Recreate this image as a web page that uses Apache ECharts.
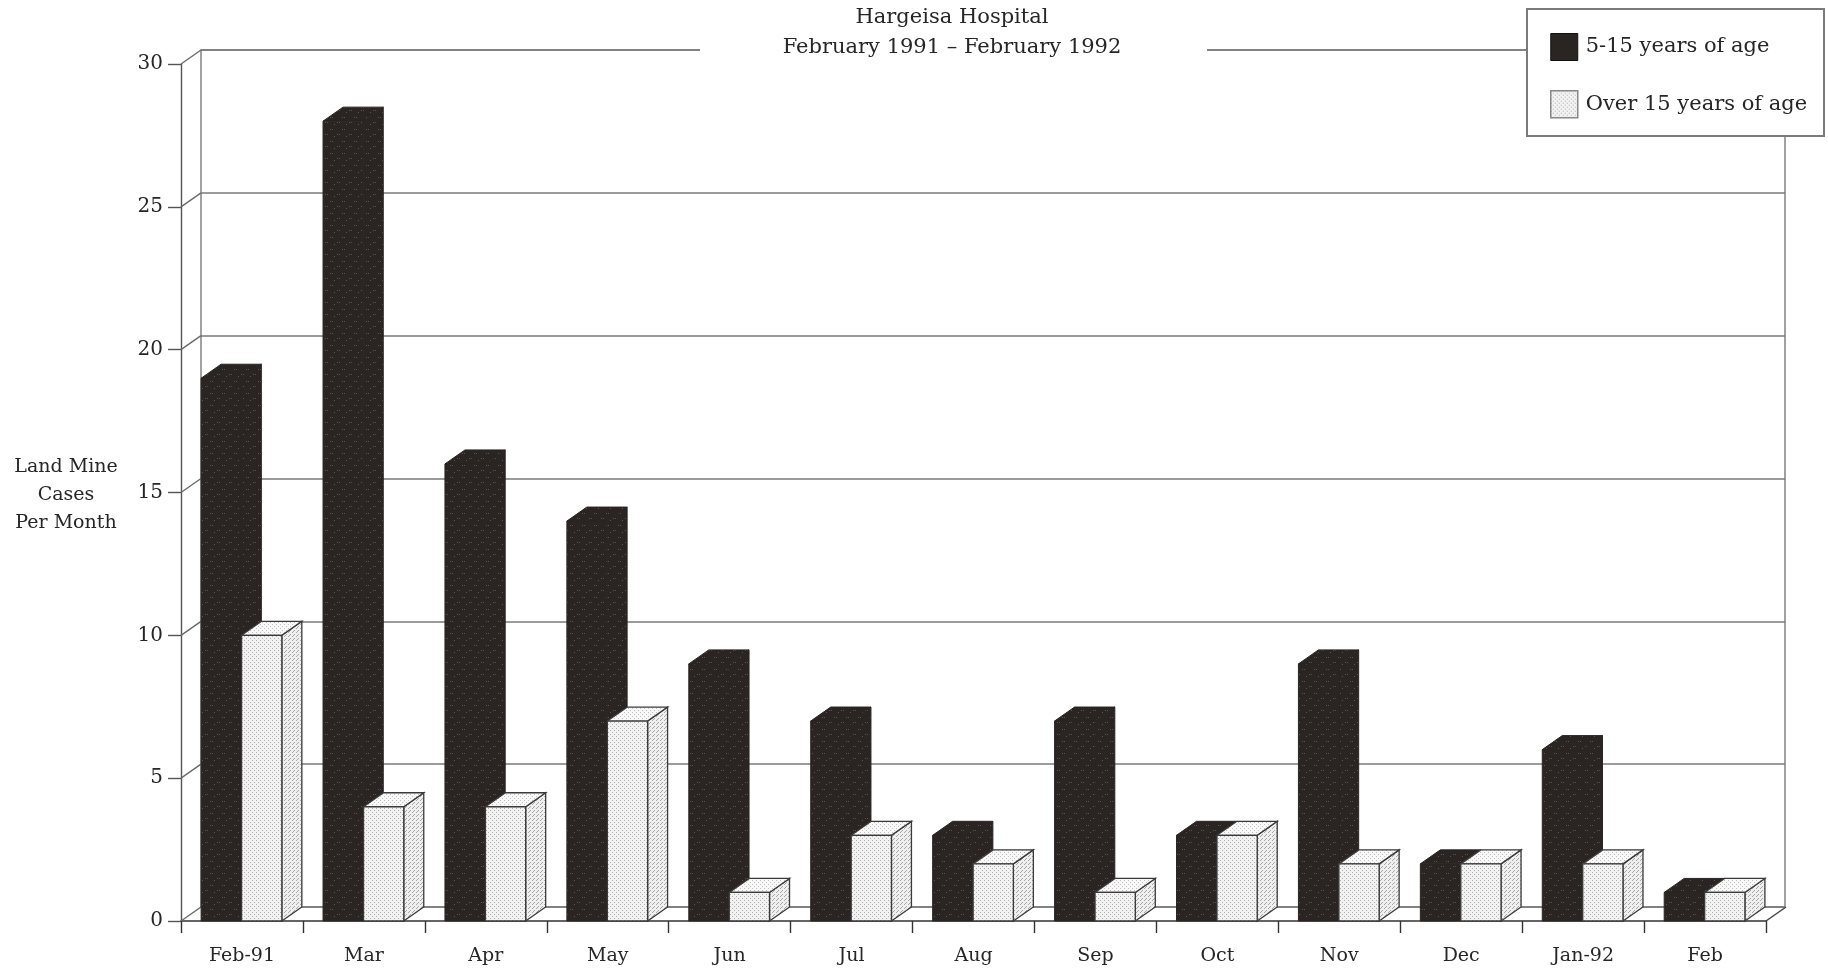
<!DOCTYPE html>
<html>
<head>
<meta charset="utf-8">
<script src="https://cdn.jsdelivr.net/npm/echarts@6/dist/echarts.min.js"></script>
<style>
  html, body { margin: 0; padding: 0; background: #fff; }
  #chart { width: 1828px; height: 979px; }
</style>
</head>
<body>
<div id="chart"></div>
<script>
// Land mine cases per month, Hargeisa Hospital
const months = ['Feb-91', 'Mar', 'Apr', 'May', 'Jun', 'Jul', 'Aug', 'Sep', 'Oct', 'Nov', 'Dec', 'Jan-92', 'Feb'];
const youngCases = [19, 28, 16, 14, 9, 7, 3, 7, 3, 9, 2, 6, 1];
const adultCases = [10, 4, 4, 7, 1, 3, 2, 1, 3, 2, 2, 2, 1];
const yTicks = [0, 5, 10, 15, 20, 25, 30];
const seriesNames = ['5-15 years of age', 'Over 15 years of age'];
const titleText = 'Hargeisa Hospital\nFebruary 1991 – February 1992';
const yAxisName = 'Land Mine\nCases\nPer Month';

const FONT = '"DejaVu Serif", "Liberation Serif", serif';
const INK = '#262626';
const DARK = '#2a2422';
// perspective offset of the back wall (px)
const DX = 20, DY = 14;

function makePattern(bg, dot, spots, size) {
  const c = document.createElement('canvas');
  c.width = c.height = size;
  const g = c.getContext('2d');
  g.fillStyle = bg;
  g.fillRect(0, 0, size, size);
  g.fillStyle = dot;
  spots.forEach(([x, y]) => g.fillRect(x, y, 1, 1));
  return { image: c, repeat: 'repeat' };
}
const lightFront = makePattern('#f2f2f2', '#b0b0b0', [[0, 0], [2, 2]], 4);
const lightTop = makePattern('#f8f8f8', '#c0c0c0', [[0, 0], [2, 2]], 4);
const lightSide = makePattern('#efefef', '#a8a8a8', [[0, 0], [2, 2], [1, 3]], 4);
const darkFill = makePattern(DARK, '#5a5350', [[1, 2], [3, 2], [6, 9], [8, 9], [10, 4]], 12);

function boxRenderer(kind) {
  return function (params, api) {
    const i = api.value(0);
    const v = api.value(1);
    const w = api.size([1, 0])[0];
    const c = api.coord([i, 0]);
    const left = c[0] - w / 2;
    const base = c[1];
    const top = api.coord([i, v])[1];
    const x0 = left + (kind === 'dark' ? 0.165 : 0.497) * w;
    const x1 = x0 + 0.33 * w;
    const front = [[x0, base], [x0, top], [x1, top], [x1, base]];
    const topFace = [[x0, top], [x0 + DX, top - DY], [x1 + DX, top - DY], [x1, top]];
    const side = [[x1, base], [x1, top], [x1 + DX, top - DY], [x1 + DX, base - DY]];
    if (kind === 'dark') {
      const st = { fill: darkFill, stroke: DARK, lineWidth: 1 };
      return {
        type: 'group',
        children: [
          { type: 'polygon', shape: { points: side }, style: st },
          { type: 'polygon', shape: { points: topFace }, style: st },
          { type: 'polygon', shape: { points: front }, style: st }
        ]
      };
    }
    const edge = { stroke: '#3a3a3a', lineWidth: 1.3 };
    return {
      type: 'group',
      children: [
        { type: 'polygon', shape: { points: side }, style: Object.assign({ fill: lightSide }, edge) },
        { type: 'polygon', shape: { points: topFace }, style: Object.assign({ fill: lightTop }, edge) },
        { type: 'polygon', shape: { points: front }, style: Object.assign({ fill: lightFront }, edge) }
      ]
    };
  };
}

// short diagonals joining the front axis to the back wall, plus the floor's right edge
function connectorRenderer(params, api) {
  const v = api.value(1);
  const w = api.size([1, 0])[0];
  const p = api.coord([0, v]);
  const left = p[0] - w / 2;
  const lineStyle = { stroke: '#6a6a6a', lineWidth: 1.4 };
  const children = [
    { type: 'line', shape: { x1: left, y1: p[1], x2: left + DX, y2: p[1] - DY }, style: lineStyle }
  ];
  if (v === 0) {
    const right = api.coord([months.length - 1, 0])[0] + w / 2;
    children.push({ type: 'line', shape: { x1: right, y1: p[1], x2: right + DX, y2: p[1] - DY }, style: { stroke: '#444', lineWidth: 1.5 } });
  }
  return { type: 'group', children: children };
}

const chart = echarts.init(document.getElementById('chart'), null, { renderer: 'canvas' });

chart.setOption({
  animation: false,
  backgroundColor: '#fff',
  legend: {
    orient: 'vertical',
    left: 1545,
    top: 28,
    z: 12,
    itemWidth: 27,
    itemHeight: 27,
    itemGap: 29,
    selectedMode: false,
    textStyle: { fontFamily: FONT, fontSize: 21, color: INK, padding: [5, 0, 0, 3] },
    data: [
      { name: seriesNames[0], icon: 'rect', itemStyle: { color: DARK, borderColor: '#111', borderWidth: 1 } },
      { name: seriesNames[1], icon: 'rect', itemStyle: { color: lightFront, borderColor: '#888', borderWidth: 1.5 } }
    ]
  },
  graphic: [
    {
      type: 'rect', z: 11,
      shape: { x: 1527, y: 9, width: 297, height: 127 },
      style: { fill: '#fff', stroke: '#7a7a7a', lineWidth: 2 }
    },
    {
      type: 'rect', z: 11,
      shape: { x: 700, y: 0, width: 507, height: 62 },
      style: { fill: '#fff' }
    },
    {
      type: 'text', z: 12,
      style: {
        x: 952, y: 3, text: titleText, align: 'center', verticalAlign: 'top',
        fontFamily: FONT, fontSize: 21, lineHeight: 30, fill: INK
      }
    },
    {
      type: 'text', z: 11,
      style: {
        x: 66, y: 495, text: yAxisName, align: 'center', verticalAlign: 'middle',
        fontFamily: FONT, fontSize: 19, lineHeight: 28, fill: INK
      }
    }
  ],
  grid: [
    { left: 181, right: 62, top: 64, bottom: 58 },
    { left: 201, right: 43, top: 50, bottom: 72, show: true, borderColor: '#7a7a7a', borderWidth: 1.4, backgroundColor: 'transparent' }
  ],
  xAxis: [
    {
      type: 'category', gridIndex: 0, data: months,
      axisLine: { lineStyle: { color: '#333', width: 1.6 } },
      axisTick: { show: true, interval: 0, length: 12, lineStyle: { color: '#333', width: 1.4 } },
      axisLabel: { fontFamily: FONT, fontSize: 19, color: INK, margin: 26, interval: 0 },
      splitLine: { show: false }
    },
    { type: 'category', gridIndex: 1, data: months, show: false }
  ],
  yAxis: [
    {
      type: 'value', gridIndex: 0, min: 0, max: 30, interval: 5,
      axisLine: { show: true, lineStyle: { color: '#555', width: 1.4 } },
      axisTick: { show: true, length: 13, lineStyle: { color: '#555', width: 1.4 } },
      axisLabel: { fontFamily: FONT, fontSize: 20, color: INK, margin: 18 },
      splitLine: { show: false }
    },
    {
      type: 'value', gridIndex: 1, min: 0, max: 30, interval: 5,
      axisLine: { show: false }, axisTick: { show: false }, axisLabel: { show: false },
      splitLine: { show: true, lineStyle: { color: '#7a7a7a', width: 1.5 } }
    }
  ],
  series: [
    {
      name: 'axis-joins', type: 'custom', xAxisIndex: 0, yAxisIndex: 0, z: 1, silent: true,
      renderItem: connectorRenderer,
      data: yTicks.map(v => [0, v]),
      encode: { x: 0, y: 1 }
    },
    {
      name: seriesNames[0], type: 'custom', xAxisIndex: 0, yAxisIndex: 0, z: 3,
      itemStyle: { color: DARK },
      renderItem: boxRenderer('dark'),
      data: months.map((m, i) => [i, youngCases[i]]),
      encode: { x: 0, y: 1 }
    },
    {
      name: seriesNames[1], type: 'custom', xAxisIndex: 0, yAxisIndex: 0, z: 4,
      itemStyle: { color: '#efefef' },
      renderItem: boxRenderer('light'),
      data: months.map((m, i) => [i, adultCases[i]]),
      encode: { x: 0, y: 1 }
    }
  ]
});
</script>
</body>
</html>
